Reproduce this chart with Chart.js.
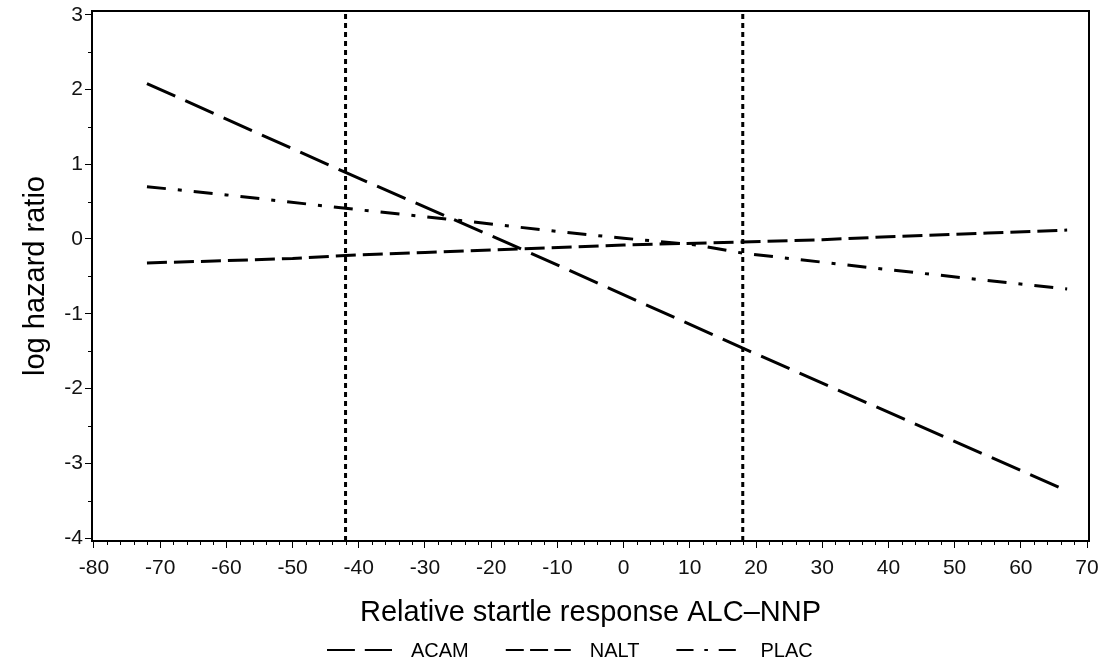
<!DOCTYPE html>
<html>
<head>
<meta charset="utf-8">
<script src="https://cdn.jsdelivr.net/npm/chart.js@4.4.1/dist/chart.umd.min.js"></script>
<style>
  html, body { margin: 0; padding: 0; background: #fff; }
  #wrap { width: 1100px; height: 666px; }
</style>
</head>
<body>
<div id="wrap"><canvas id="hazardChart"></canvas></div>
<script>
// values
const acamX = [-72, -42, -15, 18, 67];
const acamY = [2.08, 0.89, -0.15, -1.46, -3.37];
const naltX = [-72, -60, -50, -42, -30, -15, 0, 18, 30, 40, 55, 67];
const naltY = [-0.32, -0.29, -0.26, -0.22, -0.18, -0.13, -0.08, -0.04, -0.01, 0.03, 0.08, 0.12];
const placX = [-72, -60, -42, -25, -10, 0, 11, 18, 40, 67];
const placY = [0.70, 0.59, 0.41, 0.25, 0.10, 0.01, -0.08, -0.19, -0.41, -0.67];
const refLineX = [-42, 18];
const xTicks = [-80, -70, -60, -50, -40, -30, -20, -10, 0, 10, 20, 30, 40, 50, 60, 70];
const yTicks = [-4, -3, -2, -1, 0, 1, 2, 3];

const X_MIN = -80.3, X_MAX = 70.3;
const Y_MIN = -4.04, Y_MAX = 3.05;
const FONT = "'Liberation Sans', Arial, sans-serif";

const toPoints = (xs, ys) => xs.map((x, i) => ({ x: x, y: ys[i] }));

const series = [
  { label: 'ACAM', data: toPoints(acamX, acamY), borderDash: [31, 11] },
  { label: 'NALT', data: toPoints(naltX, naltY), borderDash: [20, 7] },
  { label: 'PLAC', data: toPoints(placX, placY), borderDash: [19, 12, 4, 12] },
];

const datasets = series.map(s => ({
  label: s.label,
  data: s.data,
  borderColor: '#000',
  borderWidth: 3,
  borderDash: s.borderDash,
  pointRadius: 0,
  tension: 0,
  fill: false,
}));

refLineX.forEach(x => {
  datasets.push({
    label: '',
    data: [{ x: x, y: Y_MIN }, { x: x, y: Y_MAX }],
    borderColor: '#000',
    borderWidth: 3,
    borderDash: [5, 4],
    pointRadius: 0,
    fill: false,
  });
});

// box round the plot plus the minor ticks
const frame = {
  id: 'frame',
  afterDraw(chart) {
    const { ctx, chartArea: a, scales: { x, y } } = chart;
    ctx.save();
    ctx.strokeStyle = '#000';
    ctx.lineWidth = 2;
    ctx.strokeRect(a.left, a.top, a.right - a.left, a.bottom - a.top);
    ctx.lineWidth = 1;
    ctx.beginPath();
    for (let v = -80; v <= 70; v += 2) {
      if (v % 10 === 0) continue;
      const px = Math.round(x.getPixelForValue(v)) + 0.5;
      ctx.moveTo(px, a.bottom);
      ctx.lineTo(px, a.bottom + 4);
    }
    for (let v = -3.5; v < 3; v += 1) {
      const py = Math.round(y.getPixelForValue(v)) + 0.5;
      ctx.moveTo(a.left, py);
      ctx.lineTo(a.left - 4, py);
    }
    ctx.stroke();
    ctx.restore();
  }
};

// legend under the axis title
const lineLegend = {
  id: 'lineLegend',
  afterDraw(chart) {
    const { ctx } = chart;
    ctx.save();
    ctx.font = '20px ' + FONT;
    ctx.textBaseline = 'middle';
    ctx.fillStyle = '#000';
    let cx = 327;
    const cy = 650;
    series.forEach(s => {
      ctx.strokeStyle = '#000';
      ctx.lineWidth = 2;
      ctx.setLineDash(s.borderDash.map(d => d * 0.9));
      ctx.beginPath();
      ctx.moveTo(cx, cy);
      ctx.lineTo(cx + 65, cy);
      ctx.stroke();
      ctx.setLineDash([]);
      ctx.fillText(s.label, cx + 84, cy + 1);
      cx += 84 + ctx.measureText(s.label).width + 37;
    });
    ctx.restore();
  }
};

new Chart(document.getElementById('hazardChart'), {
  type: 'line',
  data: { datasets: datasets },
  options: {
    responsive: true,
    maintainAspectRatio: false,
    animation: false,
    layout: { padding: { top: 11, right: 11, bottom: 30, left: 0 } },
    plugins: {
      legend: { display: false },
      tooltip: { enabled: false },
    },
    scales: {
      x: {
        type: 'linear',
        min: X_MIN,
        max: X_MAX,
        border: { display: false },
        grid: { drawOnChartArea: false, drawTicks: true, tickLength: 7, tickColor: '#000', tickWidth: 1 },
        afterBuildTicks: scale => { scale.ticks = xTicks.map(v => ({ value: v })); },
        afterFit: scale => {
          scale.height = 95;
          scale.paddingLeft = 0;
          scale.paddingRight = 0;
        },
        ticks: {
          color: '#111',
          padding: 8,
          maxRotation: 0,
          font: { family: FONT, size: 21 },
        },
        title: {
          display: true,
          text: 'Relative startle response ALC\u2013NNP',
          color: '#000',
          font: { family: FONT, size: 29 },
          padding: { top: 0, bottom: 6 },
        },
      },
      y: {
        type: 'linear',
        min: Y_MIN,
        max: Y_MAX,
        border: { display: false },
        grid: { drawOnChartArea: false, drawTicks: true, tickLength: 7, tickColor: '#000', tickWidth: 1 },
        afterBuildTicks: scale => { scale.ticks = yTicks.map(v => ({ value: v })); },
        afterFit: scale => {
          scale.width = 92;
          scale.paddingTop = 0;
          scale.paddingBottom = 0;
        },
        ticks: {
          color: '#111',
          padding: 2,
          font: { family: FONT, size: 21 },
        },
        title: {
          display: true,
          text: 'log hazard ratio',
          color: '#000',
          font: { family: FONT, size: 29 },
          padding: { top: 19, bottom: 0 },
        },
      },
    },
  },
  plugins: [frame, lineLegend],
});
</script>
</body>
</html>
